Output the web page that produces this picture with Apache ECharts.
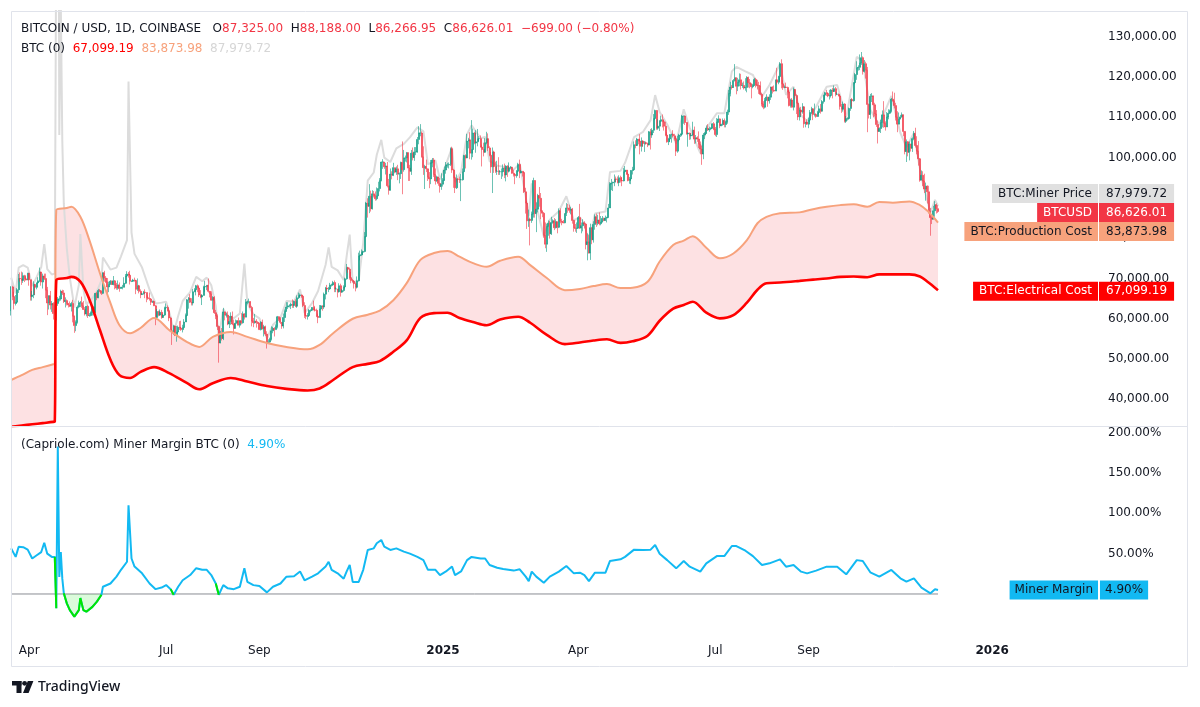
<!DOCTYPE html>
<html><head><meta charset="utf-8">
<script src="https://cdn.jsdelivr.net/npm/echarts@6/dist/echarts.min.js"></script>
<style>html,body{margin:0;padding:0;background:#fff;}#c{width:1200px;height:707px;}</style>
</head><body><div id="c"></div>
<script>
// ---------- DATA ----------
const START = Date.UTC(2024, 2, 20);   // first daily candle (day 0)
const DAY = 86400000;
const firstOpenK = 62.0;
// daily candles [close, high, low] in thousands USD, open = previous close
const dailyCHL = [
// 2024-03 (20..31)
[67.9,68.1,60.8],[65.5,68.2,64.6],[63.8,66.7,62.3],[64.1,65.9,63.3],[67.2,67.6,63.8],[70.0,71.1,66.4],[69.9,71.5,69.2],[69.5,71.7,68.4],[70.7,71.5,68.9],[69.9,70.9,69.1],[69.6,70.3,69.5],[71.3,71.4,69.6],
// 2024-04
[69.7,71.3,68.2],[65.5,69.7,64.5],[65.9,66.9,64.5],[68.5,69.3,65.1],[67.8,68.7,66.0],[68.9,69.0,67.3],[69.4,70.3,68.8],[71.6,72.7,69.1],[69.1,71.7,68.2],[70.6,71.2,67.5],
[70.0,71.2,69.6],[67.1,71.2,65.1],[63.9,67.9,60.9],[65.7,65.8,62.3],[63.4,66.9,62.3],[63.8,64.4,61.7],[61.3,64.1,59.8],[63.5,64.1,60.8],[63.8,65.5,59.6],[64.9,65.4,63.2],
[64.9,65.7,64.3],[66.8,67.2,64.5],[66.4,67.2,65.9],[64.3,67.1,63.9],[64.5,65.3,62.8],[63.8,64.8,63.3],[63.4,63.9,62.8],[63.1,64.3,62.9],[63.8,64.2,61.8],[60.6,64.7,59.1],
// 2024-05
[58.3,60.8,56.5],[59.1,59.6,56.9],[62.9,63.3,58.8],[63.9,64.5,62.6],[64.0,64.4,62.9],[63.2,65.5,62.7],[62.3,64.4,62.2],[61.2,62.9,60.8],[63.1,63.2,60.6],[60.8,63.5,60.2],
[60.8,61.4,60.5],[61.5,61.8,60.6],[62.9,63.4,60.8],[61.6,63.1,60.8],[66.3,66.4,61.4],[65.2,66.7,64.6],[67.0,67.4,65.1],[66.9,67.4,66.6],[66.3,67.0,65.9],[71.4,71.5,66.1],
[70.1,71.9,69.2],[69.2,70.6,68.9],[67.9,70.1,66.3],[68.5,69.2,66.6],[69.3,69.6,68.5],[68.5,69.5,68.4],[69.4,70.6,68.3],[68.4,69.6,67.3],[67.6,68.9,67.2],[68.4,69.5,67.2],
[67.5,69.0,66.7],
// 2024-06
[67.8,67.9,67.5],[67.8,68.4,67.3],[68.8,70.3,67.8],[70.6,71.1,68.6],[71.1,71.8,70.4],[70.8,71.6,70.2],[69.3,71.9,68.5],[69.3,69.5,69.1],[69.6,69.9,69.2],[69.5,70.2,69.2],
[67.3,69.6,66.1],[68.2,70.0,66.9],[66.8,68.4,66.3],[66.0,67.3,65.1],[66.2,66.4,65.9],[66.6,66.9,66.0],[66.5,67.3,65.1],[65.2,66.5,64.1],[65.0,65.8,64.7],[64.9,66.5,64.5],
[64.1,65.0,63.4],[64.3,64.5,63.9],[63.2,64.5,63.2],[60.3,63.4,58.4],[61.8,62.4,60.3],[60.9,62.0,60.6],[61.6,62.3,60.7],[60.3,62.2,60.0],[60.9,61.2,60.3],[62.7,63.0,60.7],
// 2024-07
[62.8,63.8,62.5],[62.0,63.3,61.8],[60.2,62.3,59.4],[57.0,60.5,56.8],[56.6,57.5,53.5],[58.2,58.5,56.0],[55.9,58.3,55.7],[56.7,58.2,54.3],[57.9,58.3,56.3],[57.7,59.4,57.2],
[57.3,59.5,57.0],[57.8,58.5,56.6],[59.2,59.9,57.8],[60.8,61.3,59.2],[64.7,64.9,60.6],[65.1,65.4,62.5],[64.1,66.1,63.9],[63.9,65.1,63.3],[66.7,67.4,63.3],[67.2,67.6,66.6],
[68.2,68.4,65.8],[67.6,68.5,66.6],[65.9,67.8,65.4],[65.4,67.1,65.1],[65.8,66.1,63.4],[67.9,68.2,65.8],[68.0,69.4,66.7],[68.3,68.3,67.1],[66.8,70.0,66.5],[66.2,66.9,65.3],
[64.6,66.8,64.5],
// 2024-08
[65.3,65.6,62.3],[61.5,65.6,61.2],[60.7,62.2,59.9],[58.1,61.1,57.2],[54.0,58.3,49.1],[56.0,57.0,53.9],[55.1,57.7,54.6],[61.7,62.7,54.7],[60.9,61.8,59.6],[60.9,61.5,60.3],
[58.7,61.8,58.4],[59.3,60.7,57.7],[60.6,61.6,58.5],[58.7,61.8,58.4],[57.6,59.8,56.1],[58.9,59.8,57.8],[59.5,59.6,58.8],[58.4,60.3,58.4],[59.5,59.6,57.8],[59.0,61.4,58.6],
[61.2,61.8,58.8],[60.4,61.4,59.8],[64.1,64.9,60.4],[64.2,64.5,63.6],[64.2,65.0,63.8],[62.8,64.4,62.8],[59.4,63.2,58.1],[59.0,60.2,57.9],[59.4,61.2,58.8],[59.1,59.9,57.8],
[58.9,59.4,58.7],
// 2024-09
[57.3,59.0,57.2],[59.1,59.4,57.1],[57.5,59.8,57.4],[58.0,58.5,55.6],[56.2,58.3,55.7],[53.9,56.9,52.6],[54.2,54.9,53.8],[54.9,55.3,53.7],[57.0,58.1,54.6],[57.6,58.0,56.4],
[57.3,57.9,55.6],[58.1,58.6,57.3],[60.5,60.7,57.6],[60.0,60.6,59.5],[59.1,60.4,58.7],[58.2,59.2,57.5],[60.3,61.3,57.6],[61.8,62.3,59.2],[62.9,64.1,61.8],[63.2,64.1,62.4],
[63.3,63.6,62.8],[63.6,64.0,62.4],[63.3,64.8,62.7],[64.3,64.5,62.7],[63.1,64.8,62.9],[65.2,65.8,62.7],[65.8,66.5,64.9],[65.9,66.3,65.4],[65.6,66.0,65.2],[63.3,65.6,62.9],
// 2024-10
[60.8,64.1,60.2],[60.6,62.3,59.9],[60.8,61.4,59.8],[62.1,62.4,60.5],[62.1,62.3,61.6],[62.8,62.9,61.9],[62.2,64.5,62.1],[62.1,63.2,61.8],[60.6,62.5,60.4],[60.3,61.3,58.9],
[62.4,63.4,60.4],[63.2,63.4,62.4],[62.9,63.3,62.0],[66.1,66.5,62.4],[67.6,67.9,64.8],[67.4,68.4,66.8],[67.4,67.9,66.6],[68.4,68.9,67.2],[68.4,68.7,68.0],[69.0,69.4,68.2],
[67.4,69.5,66.6],[67.4,67.8,66.6],[66.7,67.4,65.3],[68.2,68.8,66.5],[66.6,68.7,65.5],[67.0,67.4,66.5],[67.9,68.3,66.7],[69.9,70.2,67.5],[72.7,73.6,69.7],[72.3,72.9,71.4],
[70.2,72.7,69.7],
// 2024-11
[69.5,71.6,68.8],[69.3,69.9,69.0],[68.7,69.4,67.5],[67.8,69.0,66.8],[69.4,70.5,67.5],[75.6,76.4,69.3],[75.9,76.9,74.5],[76.5,77.2,75.6],[76.7,76.9,75.8],[80.4,81.5,76.5],
[88.7,89.0,80.2],[87.9,89.9,85.1],[90.4,93.4,86.2],[87.3,91.8,86.6],[91.0,91.9,87.1],[90.6,91.7,90.1],[89.8,91.6,89.3],[90.5,92.6,89.4],[92.3,94.0,90.9],[94.3,94.9,91.6],
[98.9,99.0,94.1],[98.9,99.6,97.2],[97.7,98.9,97.2],[97.9,98.7,95.8],[93.0,98.9,92.6],[91.9,94.7,90.8],[95.9,97.3,91.8],[95.6,96.6,94.6],[97.5,98.7,95.4],[96.4,97.5,96.1],
// 2024-12
[97.2,97.8,95.7],[95.9,98.2,94.4],[96.0,96.3,93.6],[98.8,99.0,94.7],[97.0,104.0,90.9],[99.9,101.9,96.5],[99.9,100.5,99.0],[101.2,101.4,98.8],[97.4,101.3,94.2],[96.6,98.2,94.2],
[101.1,101.9,95.7],[100.0,102.5,99.3],[101.4,102.6,99.2],[101.4,102.6,100.6],[104.5,105.1,101.2],[106.1,107.8,103.3],[106.1,108.3,105.3],[100.2,106.5,100.0],[97.5,102.8,95.7],[97.8,98.2,92.2],
[97.2,99.5,96.4],[95.1,97.3,94.2],[94.7,96.4,92.4],[98.7,99.4,93.4],[99.4,99.9,97.6],[95.8,99.9,95.2],[94.2,97.3,93.3],[95.2,95.5,94.0],[93.6,95.2,93.0],[92.8,94.9,91.3],
[93.4,96.1,92.0],
// 2025-01
[94.4,94.9,92.8],[96.9,97.8,94.2],[98.1,98.9,96.0],[98.2,98.7,97.5],[98.3,98.8,97.3],[102.2,102.5,97.9],[96.9,102.7,96.2],[95.0,97.2,92.5],[92.5,95.3,91.2],[94.7,95.8,92.2],
[94.6,94.9,93.8],[94.5,95.3,93.7],[94.5,95.9,89.2],[96.5,97.3,94.3],[100.5,100.7,96.5],[99.9,100.8,97.3],[104.1,105.9,99.9],[104.4,104.9,102.3],[101.1,106.3,99.6],[102.0,109.3,99.5],
[106.1,107.2,100.1],[103.6,106.4,103.3],[103.9,106.8,101.2],[104.7,107.1,102.8],[104.7,105.3,104.1],[102.6,105.5,102.5],[102.0,103.2,97.8],[101.3,103.7,100.3],[103.7,104.8,101.3],[104.7,106.4,103.3],
[102.4,106.0,101.6],
// 2025-02
[100.6,102.8,100.3],[97.7,101.4,96.2],[101.4,102.5,91.2],[97.8,101.7,96.2],[96.6,99.0,96.2],[96.6,99.2,95.7],[96.5,100.1,95.7],[96.5,96.9,95.7],[96.5,97.3,94.7],[97.4,98.3,95.3],
[95.7,98.5,94.9],[97.9,98.1,94.1],[96.6,98.1,95.2],[97.5,98.8,96.3],[97.6,97.9,97.2],[96.1,97.7,96.0],[95.8,97.0,95.3],[95.5,96.0,93.4],[96.6,96.9,95.0],[98.3,98.7,96.4],
[96.2,99.5,94.9],[96.6,96.9,96.1],[96.3,96.6,95.3],[91.5,96.4,91.2],[88.7,92.5,86.1],[84.3,89.3,82.3],[84.7,87.1,82.8],[84.4,85.1,78.2],
// 2025-03
[86.0,86.6,83.8],[94.3,95.0,85.1],[86.1,94.4,85.1],[87.2,88.9,81.5],[90.6,91.0,86.4],[89.9,92.7,87.8],[86.7,91.2,84.7],[86.2,86.9,85.2],[80.7,86.5,80.1],[78.5,83.9,77.5],
[82.9,83.6,76.6],[83.7,84.4,80.6],[81.1,84.3,79.9],[83.9,85.3,80.8],[84.3,84.7,83.6],[82.6,85.0,82.0],[84.1,84.7,82.4],[82.7,84.1,81.2],[86.8,87.4,82.5],[84.2,87.4,83.7],
[84.0,84.8,83.2],[83.8,84.5,83.7],[86.1,86.1,83.7],[87.5,88.7,85.5],[87.4,88.5,86.3],[86.9,88.3,86.3],[87.2,87.8,85.9],[84.4,87.5,83.6],[82.6,84.6,81.6],[82.4,83.5,81.6],
[82.5,83.9,81.3],
// 2025-04
[85.1,85.5,82.4],[82.5,88.5,82.3],[83.1,83.9,81.2],[83.8,84.7,81.7],[83.5,84.2,82.4],[78.4,83.8,77.2],[79.1,81.2,74.5],[76.3,80.9,76.2],[82.6,83.6,74.6],[79.6,82.7,78.5],
[83.4,84.2,78.9],[85.3,85.9,82.1],[83.7,86.1,82.8],[84.5,85.8,83.2],[83.6,86.4,83.2],[84.0,85.5,83.2],[84.9,85.5,83.9],[84.4,85.1,84.2],[85.0,85.6,84.3],[85.1,85.3,83.9],
[87.5,88.5,85.1],[93.4,93.9,87.5],[93.7,94.7,91.9],[93.9,94.0,91.7],[94.7,95.8,92.9],[94.6,95.3,93.9],[93.8,95.3,93.6],[95.0,95.6,92.9],[94.3,95.5,93.8],[94.2,95.2,92.9],
// 2025-05
[96.5,97.4,94.1],[96.9,97.9,96.3],[95.9,96.9,95.7],[94.3,96.3,94.1],[94.7,95.2,93.5],[96.8,96.9,93.4],[97.0,97.7,95.8],[103.2,104.0,96.9],[103.0,104.3,102.3],[104.6,104.9,102.9],
[104.1,104.6,103.3],[102.8,105.8,100.8],[104.1,105.0,101.5],[103.5,104.3,102.7],[103.7,104.1,101.4],[103.5,104.0,103.2],[103.1,103.7,102.6],[106.4,106.6,103.1],[105.6,107.1,102.0],[106.8,107.3,104.9],
[109.7,110.8,106.1],[111.7,111.9,109.3],[107.3,111.8,106.9],[107.8,109.5,106.9],[109.0,109.3,106.6],[109.4,110.4,108.9],[108.9,110.7,107.5],[107.8,109.3,106.7],[105.6,108.9,105.3],[103.9,106.3,103.7],
[104.6,104.9,103.1],
// 2025-06
[105.7,105.8,103.9],[105.8,105.9,103.7],[105.4,106.8,105.0],[104.7,105.9,104.2],[101.6,105.2,100.4],[104.4,105.4,101.2],[105.6,105.9,104.0],[105.8,106.0,105.1],[110.3,110.6,105.3],[110.3,110.4,108.4],
[108.7,110.4,108.1],[105.9,108.8,105.7],[106.1,106.2,102.7],[105.4,106.2,104.4],[105.6,106.0,104.5],[106.8,108.9,105.4],[104.6,107.7,103.4],[104.9,105.6,103.5],[104.6,105.3,103.9],[103.3,106.5,102.4],
[102.1,104.0,100.8],[100.9,103.0,98.2],[105.6,106.1,99.6],[106.0,106.3,104.6],[107.3,108.0,105.9],[106.9,108.3,106.6],[107.1,107.7,106.4],[107.3,107.5,106.8],[108.4,108.5,107.2],[107.1,108.8,106.8],
// 2025-07
[105.7,107.6,105.3],[108.8,109.8,105.1],[109.6,110.5,108.6],[107.9,109.7,107.3],[108.2,108.4,107.8],[109.2,109.7,107.9],[108.2,109.7,107.5],[108.9,109.2,107.5],[111.3,111.9,108.4],[115.9,116.8,110.6],
[117.5,118.8,115.2],[117.4,118.0,116.9],[119.1,119.5,117.3],[119.8,123.2,118.9],[117.7,119.9,115.7],[118.7,119.8,116.5],[119.3,120.9,117.7],[117.9,120.8,116.9],[117.9,118.6,117.3],[117.3,118.9,116.9],
[117.4,119.7,116.6],[119.9,120.2,116.2],[118.6,120.1,117.4],[118.3,119.5,117.2],[117.6,118.4,114.7],[117.9,118.3,117.2],[119.4,119.8,117.8],[118.0,119.8,117.4],[117.9,119.3,116.9],[117.8,118.8,115.8],
[115.7,118.9,115.5],
// 2025-08
[113.3,116.1,112.7],[112.5,114.0,112.0],[114.2,114.8,112.2],[115.0,115.7,114.1],[114.1,115.1,112.6],[115.0,115.7,113.4],[117.5,117.6,114.3],[116.7,117.7,115.9],[116.5,117.9,116.3],[119.3,119.3,116.5],
[118.7,122.3,118.1],[120.1,120.3,118.2],[123.3,123.7,118.9],[118.3,124.4,117.2],[117.4,119.2,116.8],[117.5,117.9,117.2],[117.4,118.6,117.3],[116.3,117.6,114.7],[112.9,116.8,112.7],[114.3,114.6,112.4],
[112.5,114.8,112.4],[116.9,117.4,111.7],[115.4,117.0,114.6],[113.5,115.7,110.8],[110.1,113.6,109.3],[111.8,112.4,109.2],[111.3,112.6,110.4],[112.6,113.5,110.9],[108.4,112.7,107.4],[108.8,108.9,107.5],
[108.3,109.5,108.1],
// 2025-09
[109.3,109.9,107.3],[111.2,111.8,108.8],[112.1,112.6,110.8],[110.7,112.2,109.3],[110.7,113.4,110.2],[110.2,111.0,109.9],[111.2,111.6,110.1],[112.1,112.9,110.8],[111.5,113.3,110.9],[113.9,114.3,111.5],
[115.5,115.6,113.4],[116.1,116.3,114.2],[115.9,116.8,115.3],[115.3,116.1,115.0],[115.4,116.8,114.4],[116.8,117.0,114.9],[116.4,117.3,114.7],[117.1,117.9,116.3],[115.7,117.5,115.2],[115.7,116.2,115.5],
[115.3,115.9,115.2],[112.7,115.4,111.9],[112.0,113.3,111.1],[113.3,113.9,111.4],[109.0,113.5,108.7],[109.7,110.3,108.6],[109.7,110.0,109.2],[112.2,112.4,109.4],[114.4,114.5,111.6],[114.1,114.8,112.6],
// 2025-10
[118.6,118.7,113.9],[120.6,121.0,118.2],[122.3,123.9,119.3],[122.4,122.9,121.6],[123.5,125.6,121.7],[124.8,126.2,123.0],[121.4,125.1,120.6],[123.3,124.2,121.1],[121.7,123.8,119.6],[113.2,122.5,106.3],
[110.7,113.4,109.7],[115.2,115.8,109.6],[115.3,116.0,113.8],[113.1,115.4,110.0],[110.8,113.6,110.2],[108.2,111.8,107.6],[106.5,109.2,103.5],[107.2,107.5,106.4],[108.7,109.4,106.1],[110.6,111.7,107.5],
[108.5,114.0,107.4],[107.6,109.0,106.7],[110.1,111.3,107.6],[111.0,112.0,109.5],[111.6,111.9,110.8],[114.5,114.8,111.2],[114.1,116.4,113.9],[112.9,116.1,112.2],[110.0,113.6,109.2],[108.3,111.5,106.3],
[109.6,111.2,108.7],
// 2025-11 (1..26)
[110.1,110.6,109.5],[110.6,111.2,109.9],[106.5,110.7,105.3],[101.5,106.6,100.8],[103.9,104.5,98.9],[101.3,104.1,100.3],[103.4,104.0,99.3],[102.3,103.4,101.5],[104.7,105.0,101.4],[106.0,106.6,104.3],
[103.0,107.4,102.5],[101.6,105.3,100.8],[99.7,104.1,98.0],[94.4,99.9,94.0],[95.6,96.8,94.6],[94.2,96.6,92.9],[92.2,96.0,91.2],[92.9,93.8,89.3],[91.5,93.1,88.6],[86.6,93.0,86.1],
[85.1,87.5,80.6],[84.7,85.6,83.5],[86.8,88.0,84.7],[88.3,89.2,85.3],[87.325,88.6,86.1],[86.62601,88.188,86.26695]
];

// smooth cost model lines: [day offset], thousands USD
const costDays        = [0,7,14,21,28,29,30,37,40,46,52,59,66,72,79,86,95,105,117,125,134,146,157,170,183,197,205,214,227,237,245,254,263,272,281,290,298,307,316,325,337,345,356,368,378,387,396,405,413,423,431,440,447,453,462,471,480,489,496,502,511,524,533,542,551,560,569,577,586,597,604,609,613,616];
const productionCostK = [44.8,46.0,47.3,48.0,48.7,48.8,87.0,87.5,87.8,85.3,79.5,71.3,63.9,58.4,56.4,57.7,60.2,57.2,54.2,53.0,55.5,56.7,55.5,54.0,53.0,52.4,53.5,56.4,60.0,61.0,62.0,64.6,68.9,74.6,76.3,76.8,75.4,73.8,72.9,74.4,75.4,73.3,70.1,67.1,67.4,68.1,68.6,67.6,67.7,69.2,74.2,78.3,79.4,80.5,77.6,75.0,76.2,79.5,83.7,85.3,86.2,86.4,87.2,87.8,88.2,88.4,87.8,89.0,88.8,89.1,88.2,86.8,85.2,83.87398];
const electricalCostK = [33.2,33.5,33.8,34.1,34.4,34.5,69.6,70.1,70.4,69.2,64.8,57.2,49.8,46.0,45.3,46.8,48.0,46.5,44.0,42.5,44.0,45.3,44.4,43.3,42.6,42.2,42.7,44.8,48.0,48.8,49.5,51.8,54.7,60.2,61.4,61.5,60.2,59.2,58.4,59.8,60.5,59.0,56.0,53.7,54.1,54.6,54.9,54.0,54.4,55.8,59.5,62.5,63.4,64.2,61.5,60.1,60.9,64.0,67.2,68.8,69.0,69.4,69.7,70.0,70.4,70.5,70.3,71.0,71.0,71.0,70.5,69.2,68.0,67.09919];

// miner price (gray) [day offset, thousands USD]
const minerPriceK = [[0,70.2],[3,66.3],[5,72.7],[8,73.3],[11,72.7],[14,68.1],[17,70.4],[20,72.8],[22,78.5],[24,72.3],[27,71.0],[29,71.2],[30,71.5],[31,246.8],[32,105.6],[33,138],[34,104.1],[35,88.5],[37,77.4],[39,70.2],[42,62.8],[45,68.4],[46,81.0],[48,67.3],[50,63.6],[54,65.1],[57,66.8],[60,69.5],[61,75.2],[66,72.2],[70,72.7],[73,75.5],[77,79.5],[78,118.9],[80,81.4],[82,76.1],[87,72.7],[92,67.2],[96,63.8],[100,64.0],[103,64.2],[106,60.4],[108,56.4],[111,60.7],[114,64.4],[119,66.6],[123,70.4],[127,69.3],[130,70.2],[133,68.3],[136,63.1],[138,55.4],[141,62.4],[144,60.6],[148,60.1],[152,61.3],[155,73.7],[157,63.8],[161,61.1],[165,60.1],[170,55.1],[174,58.5],[179,60.2],[183,64.4],[188,64.3],[192,67.3],[195,61.4],[200,63.9],[204,66.9],[209,73.4],[211,77.7],[213,72.9],[217,72.0],[221,69.6],[223,75.6],[225,80.9],[227,69.0],[231,69.5],[234,78.9],[237,94.3],[241,96.3],[243,100.7],[246,104.4],[248,100.0],[252,98.9],[256,102.3],[261,103.4],[265,105.0],[270,107.5],[274,106.5],[277,98.3],[282,99.3],[285,94.6],[289,98.3],[293,102.5],[295,93.9],[299,96.4],[303,105.8],[306,108.0],[312,104.8],[315,105.1],[318,99.1],[323,98.0],[327,97.7],[334,97.0],[338,98.5],[342,90.3],[344,85.4],[346,93.6],[349,88.1],[354,80.5],[358,84.6],[364,86.7],[369,90.4],[374,84.4],[378,85.2],[381,83.5],[384,78.8],[388,86.1],[395,86.6],[398,96.4],[405,96.7],[408,98.7],[414,105.1],[420,106.4],[425,109.3],[428,115.5],[431,111.3],[436,108.2],[442,103.5],[447,112.0],[451,107.4],[458,101.1],[462,107.2],[469,111.0],[474,111.0],[479,121.4],[482,122.5],[488,121.4],[493,120.5],[499,115.1],[504,118.0],[511,123.3],[515,115.6],[520,117.6],[525,110.5],[529,109.0],[535,112.6],[542,117.6],[549,118.0],[555,109.8],[562,125.0],[566,123.9],[571,111.9],[577,108.1],[585,115.3],[591,106.1],[595,102.6],[600,106.1],[605,95.0],[611,86.3],[614,89.5],[616,87.97972]];

// miner margin % [day offset, percent]
const minerMarginPct = [[0,56.6],[3,46],[5,58.7],[8,58],[11,55],[14,44],[17,48],[20,52],[22,63.6],[24,50],[27,46],[29,46],[30,-17.8],[31,183],[32,21],[33,52],[34,19],[35,1],[37,-11.6],[39,-20],[42,-28],[45,-20],[46,-5],[48,-20],[50,-22],[54,-16],[57,-9.5],[60,-1],[61,9],[66,13],[70,21.5],[73,30],[77,40],[78,110],[80,44],[82,34],[87,25.6],[92,13],[96,6],[100,8],[103,11],[106,6],[108,-1],[111,9],[114,17],[119,23.5],[123,32],[127,30],[130,30],[133,23.5],[136,13],[138,-1],[141,11],[144,7],[148,6],[152,9],[155,32],[157,15],[161,11],[165,10],[170,2],[174,9],[179,13],[183,21.5],[188,22],[192,28],[195,17],[200,21.5],[204,25.6],[209,34],[211,40],[213,30],[217,25.6],[221,19],[223,28],[225,36],[227,15],[231,15],[234,30],[237,54.6],[241,56.6],[243,63],[246,67],[248,58.7],[252,54.6],[256,56.6],[261,52.5],[265,50],[270,46],[274,42],[277,30],[282,30],[285,23.5],[289,28],[293,34],[295,23.5],[299,28],[303,42],[306,46],[312,44],[315,44],[318,36],[323,32.6],[327,31],[334,29],[338,30.6],[342,21.5],[344,16],[346,27.7],[349,21.5],[354,14],[358,21.5],[364,27.7],[369,34.7],[374,25.6],[378,26.4],[381,23.5],[384,16],[388,26.4],[395,26.4],[398,41],[405,43],[408,46],[414,55],[420,54.6],[425,55],[428,60.7],[431,50],[436,42],[442,31.8],[447,41],[451,33.9],[458,27.7],[462,38],[469,47],[474,47],[479,59.5],[482,59.5],[488,53.7],[493,47],[499,36],[504,38],[511,43],[515,33.9],[520,36],[525,27.7],[529,25.6],[535,29],[542,33.9],[549,33.9],[555,24.4],[562,42],[566,41],[571,26.9],[577,21.5],[585,29.8],[591,19.4],[595,15.3],[600,19.4],[605,7.9],[611,0.8],[614,5.8],[616,4.9]];

// axis labels
const timeTicks = ['2024-04-01','2024-07-01','2024-09-01','2025-01-01','2025-04-01','2025-07-01','2025-09-01','2026-01-01'];
const priceTicks = [40000,50000,60000,70000,80000,90000,100000,110000,120000,130000];
const marginTicks = [50,100,150,200];
const monthNames = ['Jan','Feb','Mar','Apr','May','Jun','Jul','Aug','Sep','Oct','Nov','Dec'];

// ---------- BUILD (x = day offset from START) ----------
const candleData = [];
let prevClose = firstOpenK;
dailyCHL.forEach((r, i) => {
  const o = prevClose, c = r[0];
  candleData.push([i, o * 1000, c * 1000, Math.min(r[2], o, c) * 1000, Math.max(r[1], o, c) * 1000]);
  prevClose = c;
});
const lastDay = dailyCHL.length - 1;
const elecData = costDays.map((d, i) => [d, electricalCostK[i] * 1000]);
const prodData = costDays.map((d, i) => [d, productionCostK[i] * 1000]);
const minerData = minerPriceK.map(p => [p[0], p[1] * 1000]);
const marginData = minerMarginPct.map(p => [p[0], p[1]]);
const marginNeg = minerMarginPct.map(p => [p[0], Math.min(p[1], 0)]);
// segments that end on a negative value are drawn green
const marginGreen = minerMarginPct.map((p, i) => {
  const nxt = minerMarginPct[i + 1];
  return (p[1] < 0 || (nxt && nxt[1] < 0)) ? [p[0], p[1]] : [p[0], null];
});
const zeroData = [[0, 0], [lastDay, 0]];
const tickDays = timeTicks.map(s => (Date.parse(s + 'T00:00:00Z') - START) / DAY);

const FONT = '"DejaVu Sans", Verdana, sans-serif';
const TXT = '#131722';
const X_MIN = -0.1, X_MAX = 723;
const fmt2 = v => v.toLocaleString('en-US', {minimumFractionDigits: 2, maximumFractionDigits: 2});
const SM = 0.35;

const chart = echarts.init(document.getElementById('c'));
const baseX = {type: 'value', min: X_MIN, max: X_MAX, axisLine: {show: false}, axisTick: {show: false}, splitLine: {show: false}};
const option = {
  animation: false,
  backgroundColor: '#ffffff',
  textStyle: {fontFamily: FONT},
  grid: [
    {left: 11, top: 11, width: 1088, height: 415},
    {left: 11, top: 427, width: 1088, height: 209}
  ],
  xAxis: [
    Object.assign({}, baseX, {gridIndex: 0, axisLabel: {show: false}}),
    Object.assign({}, baseX, {gridIndex: 1, axisLabel: {
      customValues: tickDays, hideOverlap: false, margin: 9, color: TXT, fontSize: 12, fontFamily: FONT,
      formatter: v => { const d = new Date(START + v * DAY); return d.getUTCMonth() === 0 ? '{y|' + d.getUTCFullYear() + '}' : monthNames[d.getUTCMonth()]; },
      rich: {y: {fontWeight: 'bold', fontSize: 12, fontFamily: FONT, color: TXT}}
    }})
  ],
  yAxis: [
    {type: 'value', gridIndex: 0, position: 'right', min: 33380, max: 136380, splitLine: {show: false}, axisLine: {show: false}, axisTick: {show: false},
     axisLabel: {customValues: priceTicks, formatter: v => fmt2(v), align: 'left', margin: 9, color: TXT, fontSize: 12, fontFamily: FONT}},
    {type: 'value', gridIndex: 1, position: 'right', min: -52.1, max: 207.1, splitLine: {show: false}, axisLine: {show: false}, axisTick: {show: false},
     axisLabel: {customValues: marginTicks, formatter: v => v.toFixed(2) + '%', align: 'left', margin: 9, color: TXT, fontSize: 12, fontFamily: FONT}}
  ],
  series: [
    // band between production and electrical cost: pink to the bottom under production, white under electrical
    {name: 'band top', type: 'line', xAxisIndex: 0, yAxisIndex: 0, data: prodData, symbol: 'none', smooth: SM, lineStyle: {width: 0, opacity: 0}, areaStyle: {color: '#fde1e3', opacity: 1, origin: 'start'}, silent: true, z: 1},
    {name: 'band bottom', type: 'line', xAxisIndex: 0, yAxisIndex: 0, data: elecData, symbol: 'none', smooth: SM, lineStyle: {width: 0, opacity: 0}, areaStyle: {color: '#ffffff', opacity: 1, origin: 'start'}, silent: true, z: 1},
    {name: 'BTC:Miner Price', type: 'line', xAxisIndex: 0, yAxisIndex: 0, data: minerData, symbol: 'none', lineStyle: {color: '#dcdcdc', width: 2}, silent: true, z: 2},
    {name: 'BTCUSD', type: 'candlestick', xAxisIndex: 0, yAxisIndex: 0, data: candleData, encode: {x: 0, y: [1, 2, 3, 4]}, large: false, barWidth: 1.5, clip: true, silent: true, z: 3,
     itemStyle: {color: '#089981', color0: '#f23645', borderColor: '#089981', borderColor0: '#f23645', borderWidth: 0.6}},
    {name: 'BTC:Production Cost', type: 'line', xAxisIndex: 0, yAxisIndex: 0, data: prodData, symbol: 'none', smooth: SM, lineStyle: {color: '#f7a27c', width: 2}, silent: true, z: 4},
    {name: 'BTC:Electrical Cost', type: 'line', xAxisIndex: 0, yAxisIndex: 0, data: elecData, symbol: 'none', smooth: SM, lineStyle: {color: '#ff0000', width: 2.6}, silent: true, z: 4},
    {name: 'zero', type: 'line', xAxisIndex: 1, yAxisIndex: 1, data: zeroData, symbol: 'none', lineStyle: {color: '#8a8d94', width: 1}, silent: true, z: 1},
    {name: 'neg fill', type: 'line', xAxisIndex: 1, yAxisIndex: 1, data: marginNeg, symbol: 'none', lineStyle: {width: 0, opacity: 0}, areaStyle: {color: 'rgba(0,230,0,0.2)', origin: 0}, silent: true, z: 2},
    {name: 'Miner Margin', type: 'line', xAxisIndex: 1, yAxisIndex: 1, data: marginData, symbol: 'none', lineStyle: {color: '#12b9f2', width: 2}, silent: true, z: 3},
    {name: 'Miner Margin negative', type: 'line', xAxisIndex: 1, yAxisIndex: 1, data: marginGreen, connectNulls: false, symbol: 'none', lineStyle: {color: '#00e600', width: 2}, silent: true, z: 4}
  ]
};
chart.setOption(option);

// ---------- ANNOTATIONS ----------
const F12 = '12px ' + FONT;
function txt(text, x, y, fill, extra) {
  return {type: 'text', x: x, y: y, z: 100, silent: true,
    style: Object.assign({text: text, fill: fill, font: F12, align: 'left', verticalAlign: 'middle'}, extra || {})};
}
function tag(name, value, yc, bg, nameFg, valFg, padN, padV, xv) {
  return [
    txt(name, 1098, yc, nameFg, {align: 'right', backgroundColor: bg, padding: padN, lineHeight: 13}),
    txt(value, xv, yc, valFg, {align: 'left', backgroundColor: bg, padding: padV, lineHeight: 13})
  ];
}
const lastClose = candleData[lastDay][2];
const lastProd = productionCostK[productionCostK.length - 1] * 1000;
const lastElec = electricalCostK[electricalCostK.length - 1] * 1000;
const lastMiner = minerPriceK[minerPriceK.length - 1][1] * 1000;
const lastMargin = minerMarginPct[minerMarginPct.length - 1][1];
const yClose = chart.convertToPixel({yAxisIndex: 0}, lastClose) + 1;
const yElec = chart.convertToPixel({yAxisIndex: 0}, lastElec) + 1;
const yMargin = chart.convertToPixel({yAxisIndex: 1}, lastMargin);

const rich = {k: {fill: TXT, font: F12}, r: {fill: '#f23645', font: F12}, e: {fill: '#ff0000', font: F12}, p: {fill: '#f7a27c', font: F12}, g: {fill: '#d6d6d6', font: F12}, c: {fill: '#12b9f2', font: F12}};
const graphics = [
  {type: 'rect', z: 50, silent: true, shape: {x: 11.5, y: 11.5, width: 1176, height: 655}, style: {fill: 'none', stroke: '#e0e3eb', lineWidth: 1}},
  {type: 'line', z: 50, silent: true, shape: {x1: 11, y1: 426.5, x2: 1188, y2: 426.5}, style: {stroke: '#e0e3eb', lineWidth: 1}},
  txt('{k|BITCOIN / USD, 1D, COINBASE}   {k|O}{r|87,325.00}  {k|H}{r|88,188.00}  {k|L}{r|86,266.95}  {k|C}{r|86,626.01}  {r|\u2212699.00 (\u22120.80%)}', 21, 29, TXT, {rich: rich}),
  txt('{k|BTC (0)}  {e|' + fmt2(lastElec) + '}  {p|' + fmt2(lastProd) + '}  {g|' + fmt2(lastMiner) + '}', 21, 49, TXT, {rich: rich}),
  txt('{k|(Capriole.com) Miner Margin BTC (0)}  {c|' + lastMargin.toFixed(2) + '%}', 21, 445, TXT, {rich: rich}),
  // TradingView logo
  {type: 'rect', z: 100, silent: true, shape: {x: 12, y: 681, width: 9.5, height: 4.5}, style: {fill: TXT}},
  {type: 'rect', z: 100, silent: true, shape: {x: 16.5, y: 681, width: 5, height: 12}, style: {fill: TXT}},
  {type: 'circle', z: 100, silent: true, shape: {cx: 24.6, cy: 683.3, r: 2.4}, style: {fill: TXT}},
  {type: 'polygon', z: 100, silent: true, shape: {points: [[27.8, 681], [33.4, 681], [28.6, 693], [23, 693]]}, style: {fill: TXT}},
  {type: 'text', x: 38, y: 687, z: 100, silent: true, style: {text: 'TradingView', fill: TXT, font: '500 14px "Noto Sans", sans-serif', align: 'left', verticalAlign: 'middle'}}
];
graphics.push(...tag('BTC:Miner Price', fmt2(lastMiner), yClose - 19, '#e0e0e0', TXT, TXT, [3, 6, 3, 6], [3, 7, 3, 7], 1099));
graphics.push(...tag('BTCUSD', fmt2(lastClose), yClose, '#f23645', '#ffffff', '#ffffff', [3, 6, 3, 6], [3, 7, 3, 7], 1099));
graphics.push(...tag('BTC:Production Cost', fmt2(lastProd), yClose + 19, '#f7a27c', TXT, TXT, [3, 6, 3, 6], [3, 7, 3, 7], 1099));
graphics.push(...tag('BTC:Electrical Cost', fmt2(lastElec), yElec, '#ff0000', '#ffffff', '#ffffff', [3, 6, 3, 6], [3, 7, 3, 7], 1099));
graphics.push(...tag('Miner Margin', lastMargin.toFixed(2) + '%', yMargin, '#12b9f2', TXT, TXT, [3, 5, 3, 5], [3, 5, 3, 5], 1100));
chart.setOption({graphic: graphics});
</script>
</body></html>
